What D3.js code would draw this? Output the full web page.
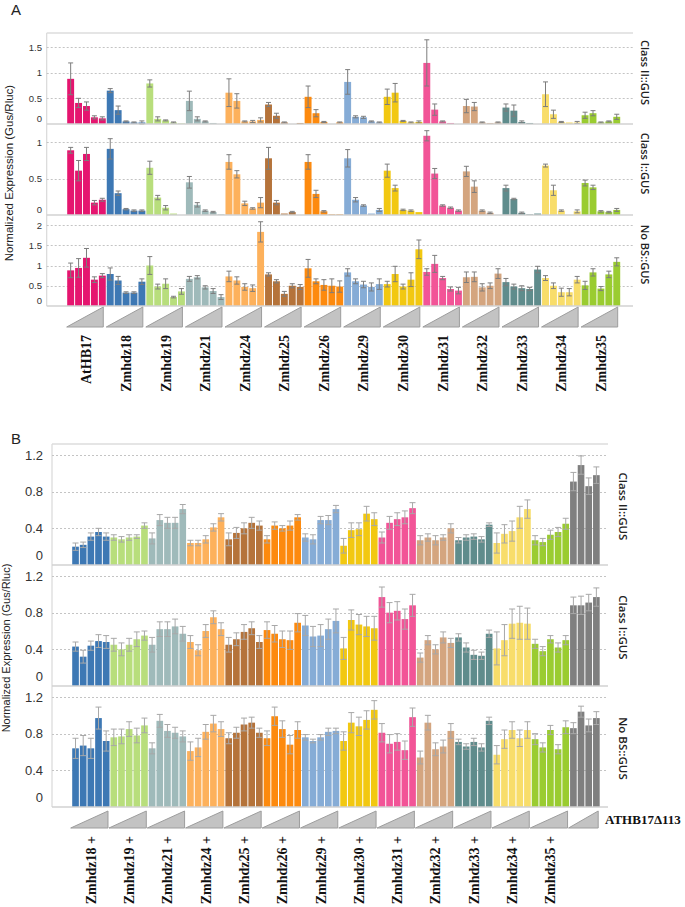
<!DOCTYPE html>
<html><head><meta charset="utf-8">
<script src="https://cdn.jsdelivr.net/npm/d3@7"></script>
<style>body{margin:0;background:#fff}svg{display:block}</style>
</head><body><svg id="c" width="685" height="907"></svg>
<script>
// ---------- Panel A data ----------
const groupsA = ["AtHB17","Zmhdz18","Zmhdz19","Zmhdz21","Zmhdz24","Zmhdz25","Zmhdz26","Zmhdz29","Zmhdz30","Zmhdz31","Zmhdz32","Zmhdz33","Zmhdz34","Zmhdz35"];
const colorsA = ["#e5156f","#3d78b4","#b8de7c","#9fbaba","#fdb15c","#b5733a","#fd8a0e","#86acd6","#f2c811","#f25497","#d4a57f","#5f8c8c","#f8dd6a","#9acc30"];
const barsPerGroupA = 5;
const aClassII = [
 .88,.41,.35,.13,.11,  .65,.27,.05,.03,.03,  .79,.10,.07,.03,.01,  .45,.10,.05,.02,0,
 .61,.45,.05,.05,.08,  .38,.16,.03,0,.02,    .53,.21,.04,0,.03,    .82,.14,.13,.05,.03,
 .53,.61,.06,.03,.04,  1.19,.28,.05,.02,0,   .35,.34,.03,.02,.03,  .32,.26,.04,.02,0,
 .58,.19,.04,.03,.03,  .17,.21,.03,.05,.14];
const aClassIIErr = [
 .31,.09,.08,.03,.03,  .04,.08,.01,.01,.03,  .07,.04,.01,.01,0,    .19,.04,.01,0,0,
 .27,.14,.01,.02,.04,  .04,.05,.01,0,0,      .21,.07,.01,0,.01,    .24,.02,.02,.01,.01,
 .15,.18,.01,.01,.02,  .45,.11,.01,0,0,      .13,.08,.01,0,.01,    .07,.11,.02,0,0,
 .24,.08,.01,0,.02,    .06,.05,.01,.01,.05];
const aClassI = [
 .89,.61,.84,.17,.21,  .91,.30,.08,.06,.06,  .65,.24,.10,.02,0,    .45,.14,.06,.04,.01,
 .73,.56,.16,.09,.17,  .78,.17,.02,.04,0,    .73,.29,.05,.01,.01,  .78,.21,.13,.02,.07,
 .61,.37,.07,.06,.04,  1.09,.57,.13,.10,.06, .60,.39,.06,.03,0,    .37,.22,.03,.01,.02,
 .68,.34,.06,0,.05,    .44,.38,.05,.04,.07];
const aClassIErr = [
 .04,.14,.09,.03,.02,  .14,.03,.01,.01,.01,  .09,.03,.03,0,0,      .08,.03,.01,.01,0,
 .10,.05,.03,.01,.07,  .15,.03,0,.01,0,      .10,.05,.01,0,0,      .12,.03,.01,0,.02,
 .09,.04,.01,.01,0,    .07,.07,.01,.01,.01,  .07,.08,.01,.01,0,    .04,.01,.01,0,0,
 .02,.07,.01,0,.02,    .04,.03,.01,.01,.02];
const aNoBS = [
 .88,.94,1.19,.65,.75, .79,.63,.33,.33,.60,  1.0,.48,.55,.22,.36,  .67,.71,.46,.37,.22,
 .73,.63,.47,.44,1.83, .78,.61,.30,.50,.47,  .93,.61,.52,.50,.48,  .83,.61,.53,.47,.54,
 .54,.79,.48,.65,1.40, .84,1.04,.69,.42,.38, .71,.72,.46,.50,.80,  .59,.48,.44,.42,.90,
 .69,.50,.34,.34,.65,  .51,.83,.43,.78,1.09];
const aNoBSErr = [
 .18,.23,.23,.07,.05,  .15,.10,.02,.02,.07,  .22,.06,.12,.02,.07,  .06,.04,.04,.06,.06,
 .13,.09,.08,.08,.25,  .04,.04,.06,.05,.06,  .22,.06,.13,.17,.14,  .09,.06,.08,.10,.13,
 .07,.19,.06,.17,.23,  .08,.21,.04,.05,.08,  .13,.12,.09,.07,.12,  .09,.06,.06,.04,.08,
 .06,.07,.10,.09,.08,  .10,.09,.05,.08,.10];
const ticksA = [[0,0.5,1,1.5],[0,0.5,1],[0,0.5,1,1.5,2]];
const rowLabelsA = ["Class II::GUS","Class I::GUS","No BS::GUS"];

// ---------- Panel B data ----------
const groupsB = ["Zmhdz18","Zmhdz19","Zmhdz21","Zmhdz24","Zmhdz25","Zmhdz26","Zmhdz29","Zmhdz30","Zmhdz31","Zmhdz32","Zmhdz33","Zmhdz34","Zmhdz35","ATHB17Δ113"];
const colorsB = ["#3d78b4","#b8de7c","#9fbaba","#fdb15c","#b5733a","#fd8a0e","#86acd6","#f2c811","#f25497","#d4a57f","#5f8c8c","#f8dd6a","#9acc30","#7f7f7f"];
const barsPerGroupB = [5,5,5,5,5,5,5,5,5,5,5,5,5,4];
const bClassII = [
 .20,.22,.31,.36,.31,  .30,.28,.30,.31,.43,  .29,.49,.46,.46,.61,  .24,.24,.28,.41,.52,
 .28,.35,.40,.46,.43,  .28,.43,.40,.43,.52,  .30,.28,.49,.49,.61,  .21,.38,.39,.56,.50,
 .30,.46,.50,.52,.62,  .27,.30,.27,.30,.40,  .27,.30,.31,.28,.44,  .24,.34,.37,.52,.61,
 .27,.25,.33,.36,.45,  .91,1.09,.86,.98];
const bClassIIErr = [
 .04,.03,.04,.04,.04,  .03,.03,.03,.02,.03,  .06,.06,.06,.06,.05,  .03,.03,.04,.04,.04,
 .07,.06,.06,.06,.05,  .04,.04,.03,.05,.03,  .04,.05,.04,.05,.04,  .08,.08,.07,.08,.07,
 .06,.07,.07,.07,.06,  .05,.04,.05,.03,.05,  .03,.03,.03,.03,.02,  .11,.10,.11,.12,.10,
 .05,.04,.05,.05,.06,  .10,.10,.09,.09];
const bClassI = [
 .43,.32,.44,.49,.48,  .45,.40,.45,.51,.55,  .45,.62,.62,.65,.57,  .48,.39,.60,.75,.62,
 .45,.51,.59,.63,.48,  .61,.57,.51,.50,.69,  .66,.54,.55,.62,.71,  .41,.72,.67,.65,.63,
 .97,.80,.82,.73,.88,  .31,.50,.40,.53,.47,  .53,.42,.34,.33,.57,  .41,.50,.68,.69,.68,
 .46,.38,.51,.42,.50,  .88,.88,.91,.97];
const bClassIErr = [
 .05,.07,.05,.07,.07,  .07,.07,.07,.08,.05,  .08,.08,.08,.08,.08,  .07,.06,.07,.07,.07,
 .08,.07,.08,.07,.07,  .09,.09,.09,.10,.10,  .11,.11,.12,.11,.13,  .12,.11,.11,.11,.13,
 .11,.11,.10,.11,.12,  .05,.05,.05,.06,.05,  .04,.05,.05,.04,.04,  .18,.17,.16,.18,.17,
 .05,.05,.04,.05,.05,  .09,.10,.09,.10];
const bNoBS = [
 .64,.67,.64,.97,.72,  .76,.77,.85,.78,.89,  .64,.94,.83,.81,.77,  .61,.65,.82,.91,.85,
 .75,.81,.90,.92,.81,  .75,.99,.85,.68,.84,  .76,.72,.76,.82,.83,  .72,.92,.88,.95,1.06,
 .81,.69,.71,.62,.98,  .54,.92,.63,.66,.83,  .71,.66,.71,.65,.94,  .57,.74,.84,.75,.84,
 .74,.65,.84,.63,.87,  .86,1.04,.89,.97];
const bNoBSErr = [
 .11,.11,.11,.12,.11,  .09,.08,.08,.08,.08,  .06,.07,.07,.06,.06,  .10,.10,.08,.09,.08,
 .06,.06,.07,.06,.05,  .08,.10,.09,.10,.09,  .03,.02,.03,.04,.03,  .10,.11,.10,.10,.10,
 .10,.10,.09,.10,.10,  .07,.08,.07,.07,.08,  .03,.03,.04,.04,.04,  .10,.10,.09,.09,.09,
 .06,.05,.05,.05,.07,  .06,.06,.07,.07];
const ticksB = [[0,0.4,0.8,1.2],[0,0.4,0.8,1.2],[0,0.4,0.8,1.2]];
const rowLabelsB = ["Class II::GUS","Class I::GUS","No BS::GUS"];

// ---------- drawing ----------
const svg = d3.select("#c");
svg.append("rect").attr("width",685).attr("height",907).attr("fill","#fff");
const SANS = "'Liberation Sans', Arial, sans-serif";
const SERIF = "'Liberation Serif', 'Times New Roman', serif";
const LBL = "'Open Sans', 'Noto Sans', sans-serif";

function panel(p){
  const g = svg.append("g");
  const n = p.rows[0].vals.length;
  const x = d3.scaleBand().domain(d3.range(n)).range([p.x0, p.x1]).padding(0);
  const bw = x.bandwidth();
  const grpOf = [], grpStart = [];
  let c = 0;
  p.sizes.forEach((s,gi)=>{ grpStart.push(c); for(let k=0;k<s;k++) grpOf.push(gi); c+=s; });
  const bottom = p.top + p.rows.length*p.rowH;

  g.append("line").attr("x1",p.left).attr("x2",p.left).attr("y1",p.top).attr("y2",bottom)
    .attr("stroke","#d9d9d9").attr("stroke-width",1.2);
  g.append("line").attr("x1",p.left).attr("x2",p.right).attr("y1",p.top).attr("y2",p.top)
    .attr("stroke","#dcdcdc").attr("stroke-width",1.5);

  p.rows.forEach((r,k)=>{
    const top = p.top + k*p.rowH, base = top + p.rowH;
    const y = d3.scaleLinear().domain([0, r.max]).range([base, top]);
    const rg = g.append("g");
    rg.selectAll(null).data(r.ticks.filter(t=>t>0)).join("line")
      .attr("x1",p.left).attr("x2",p.right)
      .attr("y1",d=>Math.round(y(d))+0.5).attr("y2",d=>Math.round(y(d))+0.5)
      .attr("stroke","#c4c4c4").attr("stroke-dasharray","2,2").attr("stroke-width",1);
    const ax = d3.axisLeft(y).tickValues(r.ticks).tickSize(0).tickPadding(0).tickFormat(d=>String(d));
    const ag = rg.append("g").attr("transform",`translate(${p.tickX},0)`).call(ax);
    ag.select(".domain").remove();
    ag.selectAll("text").attr("font-family",SANS).attr("font-size",p.tickFont).attr("fill","#333")
      .attr("transform",d=> d===0 ? `translate(0,${-p.zeroShift})` : null);
    rg.selectAll(null).data(r.vals).join("rect")
      .attr("x",(d,i)=>x(i)+0.5).attr("width",bw-1)
      .attr("y",d=>y(d)).attr("height",d=>base-y(d))
      .attr("fill",(d,i)=>p.colors[grpOf[i]]);
    const eb = r.vals.map((v,i)=>({v, e:r.errs[i], cx:x(i)+bw/2})).filter(d=>d.e>0);
    rg.selectAll(null).data(eb).join("path")
      .attr("d",d=>{
        const y1 = y(d.v+d.e), y0 = y(Math.max(0,d.v-d.e));
        const w = p.cap;
        return `M${d.cx},${y0}V${y1}M${d.cx-w},${y1}H${d.cx+w}M${d.cx-w},${y0}H${d.cx+w}`;
      })
      .attr("stroke",p.errColor).attr("stroke-width",1).attr("fill","none");
    rg.append("line").attr("x1",p.left).attr("x2",p.right).attr("y1",base).attr("y2",base)
      .attr("stroke","#d2d2d2").attr("stroke-width",1.5);
    rg.append("text").attr("transform",`translate(${p.rowLabelX},${(top+base)/2 + p.rowLabelDy}) rotate(90)`)
      .attr("text-anchor","middle").attr("dominant-baseline","central")
      .attr("font-family",LBL).attr("font-weight",600).attr("font-size",p.rowLabelFont).attr("fill","#222")
      .text(p.rowLabels[k]);
  });

  const tris = p.sizes.map((s,gi)=>({x0:x(grpStart[gi]) + p.triPadL, x1:x(grpStart[gi]+s-1)+bw - p.triPadR}));
  g.selectAll(null).data(tris).join("path")
    .attr("d",d=>`M${d.x0},${p.triBottom}L${d.x1},${p.triBottom}L${d.x1},${p.triTop}Z`)
    .attr("fill","#c3c3c3").attr("stroke","#9d9d9d").attr("stroke-width",1);

  g.append("text").attr("transform",`translate(${p.titleX},${p.titleY}) rotate(-90)`)
    .attr("text-anchor","middle").attr("font-family",SANS).attr("font-size",p.titleFont).attr("fill","#222")
    .text("Normalized Expression (Gus/Rluc)");

  return {x, bw, grpStart};
}

// Panel A
svg.append("text").attr("x",11).attr("y",15).attr("font-family",SANS).attr("font-size",15).attr("fill","#222").text("A");
const pa = panel({
  top:33, rowH:91, left:46.7, right:633, x0:66.7, x1:620.7,
  sizes: groupsA.map(()=>barsPerGroupA), colors: colorsA,
  rows:[
    {vals:aClassII, errs:aClassIIErr, max:1.773, ticks:ticksA[0]},
    {vals:aClassI, errs:aClassIErr, max:1.252, ticks:ticksA[1]},
    {vals:aNoBS, errs:aNoBSErr, max:2.247, ticks:ticksA[2]}],
  rowLabels: rowLabelsA, rowLabelX:645, rowLabelDy:-6, rowLabelFont:11,
  tickX:42, tickFont:9.5, zeroShift:6, cap:2.5, errColor:"#7d7d7d",
  triTop:307, triBottom:327, triPadL:0, triPadR:3,
  titleX:13, titleY:173, titleFont:11.5
});
svg.append("g").selectAll("text").data(groupsA).join("text")
  .attr("transform",(d,i)=>`translate(${pa.x(pa.grpStart[i]) + pa.bw*2.5},335) rotate(-90)`)
  .attr("text-anchor","end").attr("dy","0.35em")
  .attr("font-family",SERIF).attr("font-weight","bold").attr("font-size",14).attr("fill","#111")
  .text(d=>d);

// Panel B
svg.append("text").attr("x",11).attr("y",444).attr("font-family",SANS).attr("font-size",15).attr("fill","#222").text("B");
const pb = panel({
  top:444, rowH:121, left:52, right:608, x0:71.7, x1:600.2,
  sizes: barsPerGroupB, colors: colorsB,
  rows:[
    {vals:bClassII, errs:bClassIIErr, max:1.32, ticks:ticksB[0]},
    {vals:bClassI, errs:bClassIErr, max:1.32, ticks:ticksB[1]},
    {vals:bNoBS, errs:bNoBSErr, max:1.32, ticks:ticksB[2]}],
  rowLabels: rowLabelsB, rowLabelX:623, rowLabelDy:2, rowLabelFont:11.5,
  tickX:43, tickFont:13, zeroShift:10, cap:3, errColor:"#a8a8a8",
  triTop:811, triBottom:828, triPadL:-1, triPadR:2,
  titleX:10, titleY:648, titleFont:11
});
svg.append("g").selectAll("text").data(groupsB.slice(0,13)).join("text")
  .attr("transform",(d,i)=>`translate(${pb.x(pb.grpStart[i]) + pb.bw*2.5},836) rotate(-90)`)
  .attr("text-anchor","end").attr("dy","0.35em")
  .attr("font-family",SERIF).attr("font-weight","bold").attr("font-size",14).attr("fill","#111")
  .text(d=>d + " +");
svg.append("text").attr("x",605).attr("y",824).attr("font-family",SERIF).attr("font-weight","bold")
  .attr("font-size",13).attr("fill","#111").text(groupsB[13]);
</script>
</body></html>
